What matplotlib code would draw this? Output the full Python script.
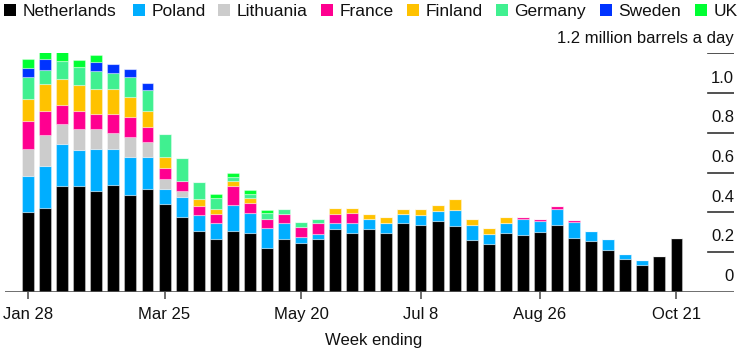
import numpy as np
import pandas as pd
import matplotlib
matplotlib.use("Agg")
import matplotlib.pyplot as plt
from matplotlib.patches import Rectangle
from matplotlib.transforms import blended_transform_factory

plt.rcParams['font.family'] = ['Liberation Sans', 'DejaVu Sans']

# ---- data (million barrels a day) ----
weeks = pd.date_range("2022-01-28", periods=39, freq="7D")
week_labels = [f"{d.strftime('%b')} {d.day}" for d in weeks]
tick_labels = ["Jan 28", "Mar 25", "May 20", "Jul 8", "Aug 26", "Oct 21"]

countries = ["Netherlands", "Poland", "Lithuania", "France", "Finland", "Germany", "Sweden", "UK"]
colors = ["#000000", "#00AEFF", "#CCCCCC", "#FF0090", "#FFC200", "#40F090", "#0033FF", "#00FF33"]

netherlands = [0.403, 0.423, 0.532, 0.532, 0.509, 0.538, 0.489, 0.519, 0.442, 0.375,
               0.307, 0.267, 0.307, 0.296, 0.219, 0.267, 0.247, 0.267, 0.316, 0.296,
               0.316, 0.297, 0.345, 0.338, 0.356, 0.333, 0.259, 0.242, 0.297, 0.284,
               0.302, 0.338, 0.272, 0.255, 0.212, 0.163, 0.133, 0.181, 0.272]
poland = [0.181, 0.212, 0.212, 0.182, 0.210, 0.181, 0.188, 0.158, 0.077, 0.104,
          0.079, 0.078, 0.128, 0.102, 0.102, 0.078, 0.027, 0.024, 0.029, 0.049,
          0.052, 0.048, 0.048, 0.048, 0.049, 0.079, 0.079, 0.049, 0.048, 0.081,
          0.054, 0.079, 0.079, 0.052, 0.052, 0.025, 0.027, 0.0, 0.0]
lithuania = [0.135, 0.156, 0.101, 0.107, 0.102, 0.079, 0.102, 0.079, 0.049, 0.030,
             0, 0, 0, 0, 0, 0, 0, 0, 0, 0,
             0, 0, 0, 0, 0, 0, 0, 0, 0, 0,
             0, 0, 0, 0, 0, 0, 0, 0, 0]
france = [0.139, 0.121, 0.097, 0.091, 0.074, 0.097, 0.098, 0.072, 0.055, 0.047,
          0.047, 0.048, 0.097, 0.050, 0.047, 0.048, 0.052, 0.054, 0.048, 0.053,
          0, 0, 0, 0, 0, 0, 0, 0, 0, 0.010,
          0.012, 0.013, 0.012, 0, 0, 0, 0, 0, 0]
finland = [0.111, 0.134, 0.128, 0.128, 0.126, 0.126, 0.102, 0.081, 0.054, 0.0,
           0.032, 0.024, 0.024, 0.024, 0, 0, 0, 0, 0.030, 0.025,
           0.025, 0.030, 0.024, 0.031, 0.032, 0.055, 0.027, 0.030, 0.030, 0,
           0, 0, 0, 0, 0, 0, 0, 0, 0]
germany = [0.113, 0.072, 0.091, 0.092, 0.091, 0.081, 0.103, 0.107, 0.116, 0.116,
           0.086, 0.055, 0.022, 0.020, 0.027, 0.024, 0.025, 0.023, 0, 0,
           0, 0, 0, 0, 0, 0, 0, 0, 0, 0,
           0, 0, 0, 0, 0, 0, 0, 0, 0]
sweden = [0.046, 0.054, 0, 0, 0.046, 0.042, 0.038, 0.037, 0, 0,
          0, 0, 0, 0, 0, 0, 0, 0, 0, 0,
          0, 0, 0, 0, 0, 0, 0, 0, 0, 0,
          0, 0, 0, 0, 0, 0, 0, 0, 0]
uk = [0.044, 0.056, 0.060, 0.035, 0.034, 0, 0, 0, 0, 0,
      0, 0.019, 0.020, 0.022, 0.017, 0, 0, 0, 0, 0,
      0, 0, 0, 0, 0, 0, 0, 0, 0, 0,
      0, 0, 0, 0, 0, 0, 0, 0, 0]

series = [netherlands, poland, lithuania, france, finland, germany, sweden, uk]
y_ticks = [0, 0.2, 0.4, 0.6, 0.8, 1.0, 1.2]
y_tick_labels = ["0", "0.2", "0.4", "0.6", "0.8", "1.0", "1.2 million barrels a day"]

# ---- figure ----
W, H = 752, 353
fig = plt.figure(figsize=(W / 100, H / 100), dpi=100)
ax_left, ax_right, ax_bottom, ax_top = 5, 734, 291.7, 53.3
ax = fig.add_axes([ax_left / W, 1 - ax_bottom / H, (ax_right - ax_left) / W, (ax_bottom - ax_top) / H])

x = np.arange(len(week_labels))
bottom = np.zeros(len(x))
for name, vals, col in zip(countries, series, colors):
    v = np.array(vals, dtype=float)
    ax.bar(x, v, bottom=bottom, width=0.7, color=col,
           edgecolor=(1, 1, 1, 0.35), linewidth=0.8, zorder=2)
    bottom += v

ax.set_xlim(-1.35, 41.37)
ax.set_ylim(0, 1.2)
for s in ax.spines.values():
    s.set_visible(False)

# y gridlines (short, at right) and labels above them
trans = blended_transform_factory(ax.transAxes, ax.transData)
for v, lab in zip(y_ticks, y_tick_labels):
    if v == 0:
        ax.axhline(0, color="#555555", lw=1.2, zorder=3)
    else:
        ax.axhline(v, xmin=0.964, xmax=1.0, color="#333333", lw=1.2, zorder=3)
    ax.text(1.0, v + 0.053, lab, transform=trans, ha="right", va="baseline",
            fontsize=12, color="#111111")
ax.set_yticks([])

tick_pos = [week_labels.index(t) for t in tick_labels]
ax.set_xticks(tick_pos)
ax.set_xticklabels(tick_labels, fontsize=12, color="#111111")
ax.tick_params(axis="x", length=4.8, width=1.2, color="#555555", pad=6)

fig.text(373.5 / W, 1 - 345 / H, "Week ending", ha="center", va="baseline",
         fontsize=12, color="#111111")

# legend, laid out item by item
legend_x = [4, 132.7, 218, 321, 406.7, 496, 600, 695]
sq = 12
for lx, name, col in zip(legend_x, countries, colors):
    fig.patches.append(Rectangle((lx / W, 1 - 16 / H), sq / W, sq / H,
                                 transform=fig.transFigure, facecolor=col,
                                 edgecolor="none", figure=fig))
    fig.text((lx + sq + 6.5) / W, 1 - 16 / H, name, ha="left", va="baseline",
             fontsize=12.5, color="#111111")

fig.savefig("out.png", dpi=100)
